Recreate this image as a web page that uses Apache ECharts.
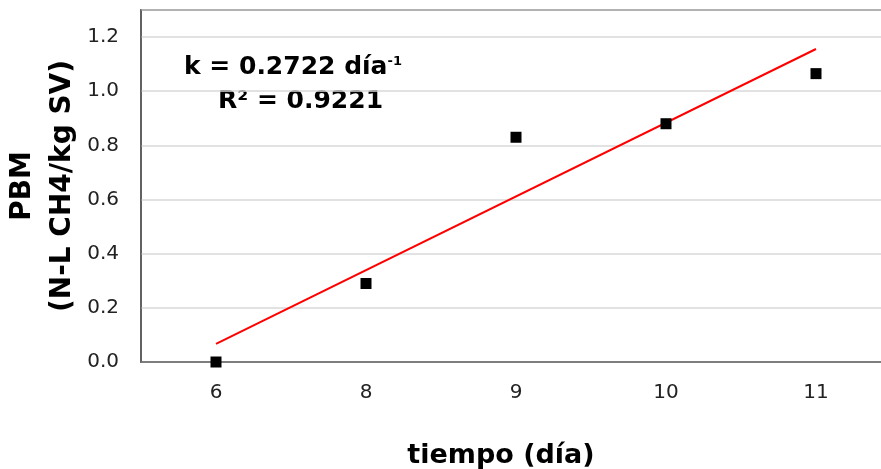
<!DOCTYPE html>
<html>
<head>
<meta charset="utf-8">
<script src="https://cdn.jsdelivr.net/npm/echarts@6/dist/echarts.min.js"></script>
<style>html,body{margin:0;padding:0;background:#fff}#chart{width:881px;height:469px}</style>
</head>
<body>
<div id="chart"></div>
<script>
// datos
var dias = ['6', '8', '9', '10', '11'];
var pbm = [0.0, 0.29, 0.83, 0.88, 1.065];
var tendencia = [['6', 0.067], ['11', 1.156]];
var yTicks = [0, 0.2, 0.4, 0.6, 0.8, 1.0, 1.2];

var fuente = 'DejaVu Sans';
var chart = echarts.init(document.getElementById('chart'));
chart.setOption({
    animation: false,
    // marco del área de trazado (borde superior negro)
    grid: {
        left: 141, top: 10, right: -10, bottom: 107,
        outerBoundsMode: 'none', containLabel: false,
        show: true, borderColor: '#000', borderWidth: 1.5
    },
    xAxis: {
        type: 'category',
        data: dias,
        boundaryGap: true,
        name: 'tiempo (día)',
        nameLocation: 'middle',
        nameGap: 80,
        nameTextStyle: { fontFamily: fuente, fontSize: 27, fontWeight: 'bold', color: '#000', padding: [0, 30, 0, 0] },
        axisLine: { lineStyle: { color: '#6e6e6e', width: 1.5 } },
        axisTick: { show: false },
        axisLabel: { fontFamily: fuente, fontSize: 20, color: '#222', margin: 21 },
        splitLine: { show: false }
    },
    yAxis: {
        type: 'value',
        min: 0,
        max: 1.3,
        interval: 0.2,
        name: 'PBM\n(N-L CH4/kg SV)',
        nameLocation: 'middle',
        nameGap: 58,
        nameMoveOverlap: false,
        nameRotate: 90,
        nameTextStyle: { fontFamily: fuente, fontSize: 28, fontWeight: 'bold', color: '#000', lineHeight: 40 },
        axisLine: { show: true, lineStyle: { color: '#6e6e6e', width: 1.5 } },
        axisTick: { show: false },
        axisLabel: {
            fontFamily: fuente, fontSize: 20, color: '#222', margin: 22,
            formatter: function (v) {
                return yTicks.some(function (t) { return Math.abs(t - v) < 1e-6; }) ? v.toFixed(1) : '';
            }
        },
        splitLine: { lineStyle: { color: '#d9d9d9', width: 1.5 } }
    },
    series: [
        {
            type: 'scatter',
            data: pbm,
            symbol: 'rect',
            symbolSize: 11,
            itemStyle: { color: '#000', opacity: 1 },
            z: 3
        },
        {
            type: 'line',
            data: tendencia,
            symbol: 'none',
            lineStyle: { color: '#ff0000', width: 2 },
            z: 2
        }
    ],
    graphic: [
        {
            type: 'text',
            left: 184,
            top: 55,
            style: {
                text: '{a|k = 0.2722 día}{s|-1}',
                rich: {
                    a: { fontFamily: fuente, fontSize: 25, fontWeight: 'bold', fill: '#000' },
                    s: { fontFamily: fuente, fontSize: 13, fontWeight: 'bold', fill: '#000', verticalAlign: 'top', padding: [0, 0, 12, 0] }
                }
            }
        },
        {
            type: 'text',
            left: 218,
            top: 89,
            style: { text: 'R² = 0.9221', fontFamily: fuente, fontSize: 25, fontWeight: 'bold', fill: '#000' }
        }
    ]
});
</script>
</body>
</html>
